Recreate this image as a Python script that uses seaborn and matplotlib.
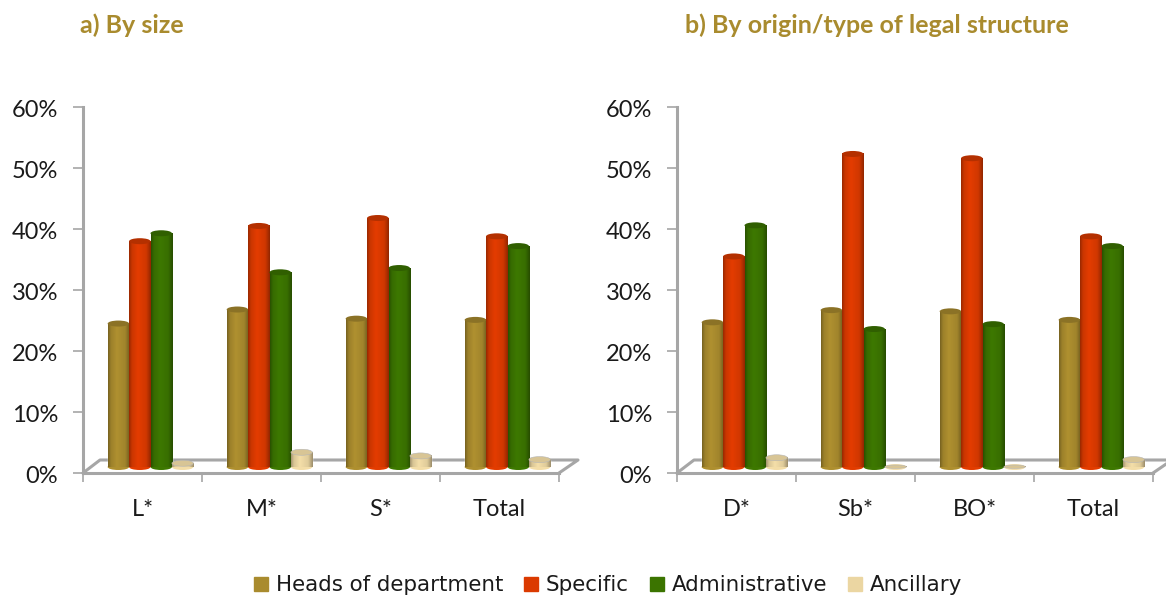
import numpy as np
import pandas as pd
import matplotlib
matplotlib.use("Agg")
import matplotlib.pyplot as plt
import seaborn as sns
from matplotlib.colors import to_rgb
from matplotlib.lines import Line2D
from matplotlib.patches import Ellipse
from matplotlib.transforms import ScaledTranslation

SERIES = ['Heads of department', 'Specific', 'Administrative', 'Ancillary']
COLORS = ['#A98B2E', '#DB3A00', '#3B7400', '#EBD6A2']

SIZE_CATS = ['L*', 'M*', 'S*', 'Total']
SIZE_HEADS = [24.5, 26.8, 25.3, 25.1]
SIZE_SPECIFIC = [38.0, 40.5, 41.8, 38.8]
SIZE_ADMIN = [39.3, 32.9, 33.6, 37.2]
SIZE_ANCILLARY = [1.6, 3.4, 2.8, 2.2]

ORIGIN_CATS = ['D*', 'Sb*', 'BO*', 'Total']
ORIGIN_HEADS = [24.7, 26.7, 26.5, 25.1]
ORIGIN_SPECIFIC = [35.5, 52.3, 51.6, 38.8]
ORIGIN_ADMIN = [40.6, 23.6, 24.4, 37.2]
ORIGIN_ANCILLARY = [2.5, 0.4, 0.2, 2.2]

FIG_W, FIG_H = 1166, 595
PANEL_W, PANEL_H = 476, 366
GREY = '#A6A6A6'
TITLE_COLOR = '#A98B2E'
FONT = 'Lato'
TICK_SIZE = 17
TITLE_SIZE = 18


def make_frame(cats, values):
    records = []
    for name, vals in zip(SERIES, values):
        for cat, val in zip(cats, vals):
            records.append({'Category': cat, 'Series': name, 'Share': val})
    return pd.DataFrame(records)


def shade(color, n=24):
    # left to right shading of a cylinder
    rgb = np.array(to_rgb(color))
    pos = np.linspace(0, 1, n)
    light = np.interp(pos, [0, 0.12, 0.4, 0.8, 1], [0.72, 0.92, 1.04, 0.95, 0.68])
    return np.clip(rgb[None, :] * light[:, None], 0, 1)[None, :, :]


def cylinders(ax):
    per_px_y = 60 / PANEL_H
    per_px_x = 4 / PANEL_W
    lift = 3 * per_px_y
    cap = 3 * per_px_y
    dx = 8 * per_px_x
    for bars, color in zip(ax.containers, COLORS):
        pale = color == COLORS[3]
        for p in bars:
            x, w, h = p.get_x() + dx, p.get_width(), p.get_height()
            base = lift + cap
            top = max(lift + h - cap, base + 0.05)
            flat = h < 1.0
            p.set_x(x)
            p.set_y(base)
            p.set_height(top - base)
            p.set_facecolor(color)
            p.set_zorder(3)
            ax.imshow(shade(color), extent=(x, x + w, base, top), aspect='auto',
                      origin='lower', zorder=3.1, interpolation='bilinear')
            ax.add_patch(Ellipse((x + w / 2, base), w, 2 * cap, facecolor=shade(color)[0, 10],
                                 edgecolor='none', zorder=3))
            rim = np.array(to_rgb(color)) * (0.92 if pale else 0.82)
            ax.add_patch(Ellipse((x + w / 2, top), w, (1.1 if flat else 2) * cap, facecolor=rim,
                                 edgecolor='#B5B5B5' if pale else 'none', linewidth=0.4, zorder=3.2))


def draw_panel(left, title, title_x, cats, values):
    ax = fig.add_axes([left / FIG_W, (FIG_H - 473) / FIG_H, PANEL_W / FIG_W, PANEL_H / FIG_H])
    df = make_frame(cats, values)
    sns.barplot(data=df, x='Category', y='Share', hue='Series', hue_order=SERIES,
                palette=COLORS, width=0.72, gap=0, saturation=1, errorbar=None,
                legend=False, ax=ax)
    cylinders(ax)
    ax.set_xlim(-0.5, 3.5)
    ax.set_ylim(0, 60)
    ax.set_xlabel('')
    ax.set_ylabel('')
    ax.set_yticks(np.arange(0, 61, 10))
    ax.set_yticklabels([f'{t}%' for t in range(0, 61, 10)])
    ax.set_xticks(np.arange(-0.5, 3.6, 1), minor=True)
    ax.tick_params(axis='x', which='major', bottom=False, length=0, pad=19, labelsize=TICK_SIZE)
    ax.tick_params(axis='x', which='minor', bottom=True, length=6.5, width=1.2, color=GREY)
    ax.tick_params(axis='y', left=True, length=7, width=1.2, color=GREY, pad=11, labelsize=TICK_SIZE)
    shift = ScaledTranslation(0, -1.5 / 100, fig.dpi_scale_trans)
    for lab in ax.get_yticklabels():
        lab.set_transform(lab.get_transform() + shift)
    for s in ['top', 'right']:
        ax.spines[s].set_visible(False)
    for s in ['left', 'bottom']:
        ax.spines[s].set_color(GREY)
        ax.spines[s].set_linewidth(2.2)
    # floor of the 3d box
    fx = [0, 17 / PANEL_W, 1 + 19 / PANEL_W, 1]
    fy = [0, 13 / PANEL_H, 13 / PANEL_H, 0]
    ax.add_line(Line2D(fx, fy, transform=ax.transAxes, color=GREY, lw=2.2, clip_on=False, zorder=1))
    fig.text(title_x / FIG_W, 1 - 25 / FIG_H, title, color=TITLE_COLOR, fontsize=TITLE_SIZE,
             fontweight='bold', va='center', ha='left')
    return ax


sns.set_theme(style='white')
plt.rcParams['font.family'] = [FONT, 'DejaVu Sans']
plt.rcParams['text.color'] = '#1A1A1A'
plt.rcParams['xtick.labelcolor'] = '#1A1A1A'
plt.rcParams['ytick.labelcolor'] = '#1A1A1A'

fig = plt.figure(figsize=(FIG_W / 100, FIG_H / 100), dpi=100, facecolor='white')

draw_panel(83, 'a) By size', 80, SIZE_CATS,
           [SIZE_HEADS, SIZE_SPECIFIC, SIZE_ADMIN, SIZE_ANCILLARY])
draw_panel(677, 'b) By origin/type of legal structure', 685, ORIGIN_CATS,
           [ORIGIN_HEADS, ORIGIN_SPECIFIC, ORIGIN_ADMIN, ORIGIN_ANCILLARY])

handles = [Line2D([], [], linestyle='none', marker='s', markersize=9.5, color=c) for c in COLORS]
fig.legend(handles, SERIES, loc='center', bbox_to_anchor=(606 / FIG_W, 1 - 585 / FIG_H), ncol=4,
           frameon=False, handlelength=1, handletextpad=0.2, columnspacing=0.8,
           prop={'family': 'DejaVu Sans', 'size': 15.4})

fig.savefig('out.png', dpi=100)
